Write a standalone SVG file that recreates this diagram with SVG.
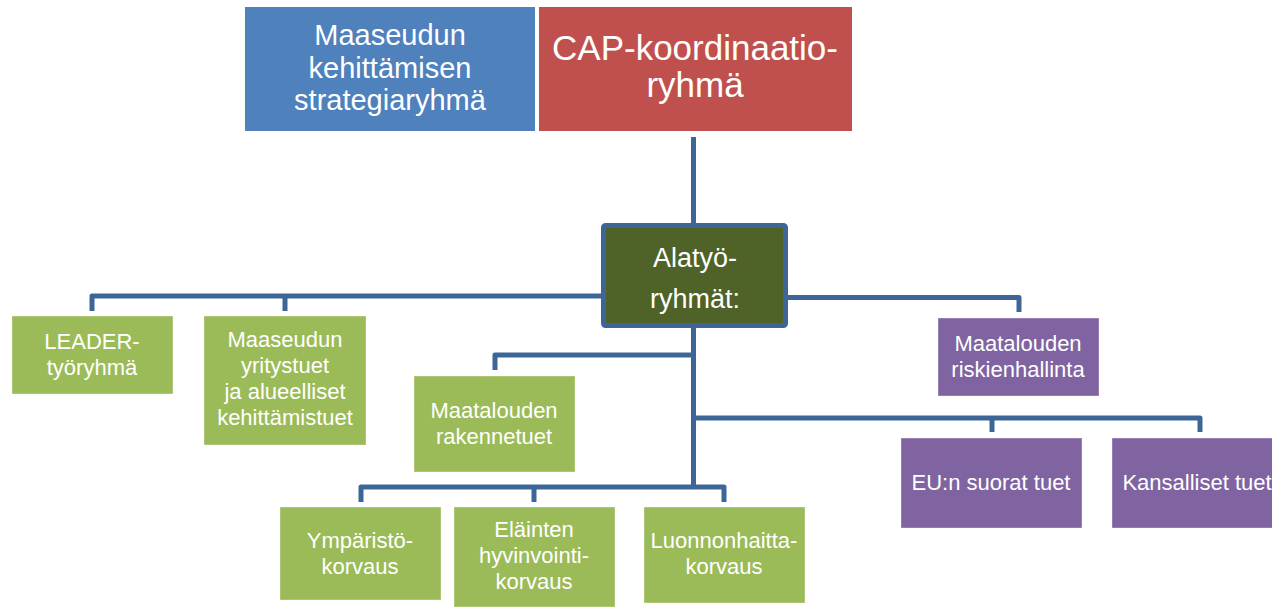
<svg xmlns="http://www.w3.org/2000/svg" width="1272" height="608" viewBox="0 0 1272 608">
<style>
text{font-family:"Liberation Sans",Arial,sans-serif;fill:#fff;text-anchor:middle}
.blue{fill:#4F81BD}
.red{fill:#C0504D}
.green{fill:#9BBB59;stroke:#fff;stroke-opacity:0.35;stroke-width:1}
.purple{fill:#8064A2;stroke:#fff;stroke-opacity:0.35;stroke-width:1}
.conn{fill:none;stroke:#3D6697;stroke-width:5;stroke-linejoin:round}
.s22{font-size:22px}
</style>
<rect width="1272" height="608" fill="#fff"/>
<g id="connectors">
<path class="conn" d="M693.5 137V226"/>
<path class="conn" d="M603 296H92V311"/>
<path class="conn" d="M285 296V311"/>
<path class="conn" d="M787 297.5H1019V312"/>
<path class="conn" d="M693.5 327V487"/>
<path class="conn" d="M693.5 355H495V370"/>
<path class="conn" d="M693.5 418H1200V432"/>
<path class="conn" d="M992 418V432"/>
<path class="conn" d="M361 502V487H724V502"/>
<path class="conn" d="M534 487V502"/>
</g>
<g id="strategiaryhma">
<rect class="blue" x="245" y="7" width="290" height="124"/>
<text x="390" y="45" font-size="29">Maaseudun</text>
<text x="390" y="78" font-size="29">kehittämisen</text>
<text x="390" y="110" font-size="29">strategiaryhmä</text>
</g>
<g id="cap">
<rect class="red" x="539" y="7" width="313" height="124"/>
<text x="695" y="60" font-size="35">CAP-koordinaatio-</text>
<text x="695" y="97" font-size="35">ryhmä</text>
</g>
<g id="alatyoryhmat">
<rect x="603.5" y="225.5" width="182" height="100" rx="2" fill="#4F6228" stroke="#3D6697" stroke-width="5"/>
<text x="695" y="267" font-size="27">Alatyö-</text>
<text x="695" y="308" font-size="27">ryhmät:</text>
</g>
<g id="leader">
<rect class="green" x="12" y="316" width="161" height="78"/>
<text class="s22" x="92" y="349">LEADER-</text>
<text class="s22" x="92" y="375">työryhmä</text>
</g>
<g id="yritystuet">
<rect class="green" x="204" y="316" width="162" height="129"/>
<text class="s22" x="285" y="347">Maaseudun</text>
<text class="s22" x="285" y="373">yritystuet</text>
<text class="s22" x="285" y="399">ja alueelliset</text>
<text class="s22" x="285" y="425">kehittämistuet</text>
</g>
<g id="rakennetuet">
<rect class="green" x="414" y="376" width="161" height="96"/>
<text class="s22" x="494" y="418">Maatalouden</text>
<text class="s22" x="494" y="444">rakennetuet</text>
</g>
<g id="riskienhallinta">
<rect class="purple" x="938" y="318" width="161" height="78"/>
<text class="s22" x="1018" y="351">Maatalouden</text>
<text class="s22" x="1018" y="377">riskienhallinta</text>
</g>
<g id="suorat">
<rect class="purple" x="901" y="438" width="181" height="90"/>
<text class="s22" x="991" y="490">EU:n suorat tuet</text>
</g>
<g id="kansalliset">
<rect class="purple" x="1112" y="438" width="165" height="90"/>
<text class="s22" x="1197" y="490">Kansalliset tuet</text>
</g>
<g id="ymparisto">
<rect class="green" x="280" y="507" width="161" height="93"/>
<text class="s22" x="360" y="548">Ympäristö-</text>
<text class="s22" x="360" y="574">korvaus</text>
</g>
<g id="elainten">
<rect class="green" x="454" y="507" width="161" height="100"/>
<text class="s22" x="534" y="537">Eläinten</text>
<text class="s22" x="534" y="563">hyvinvointi-</text>
<text class="s22" x="534" y="589">korvaus</text>
</g>
<g id="luonnonhaitta">
<rect class="green" x="644" y="507" width="161" height="96"/>
<text class="s22" x="724" y="548">Luonnonhaitta-</text>
<text class="s22" x="724" y="574">korvaus</text>
</g>
</svg>
